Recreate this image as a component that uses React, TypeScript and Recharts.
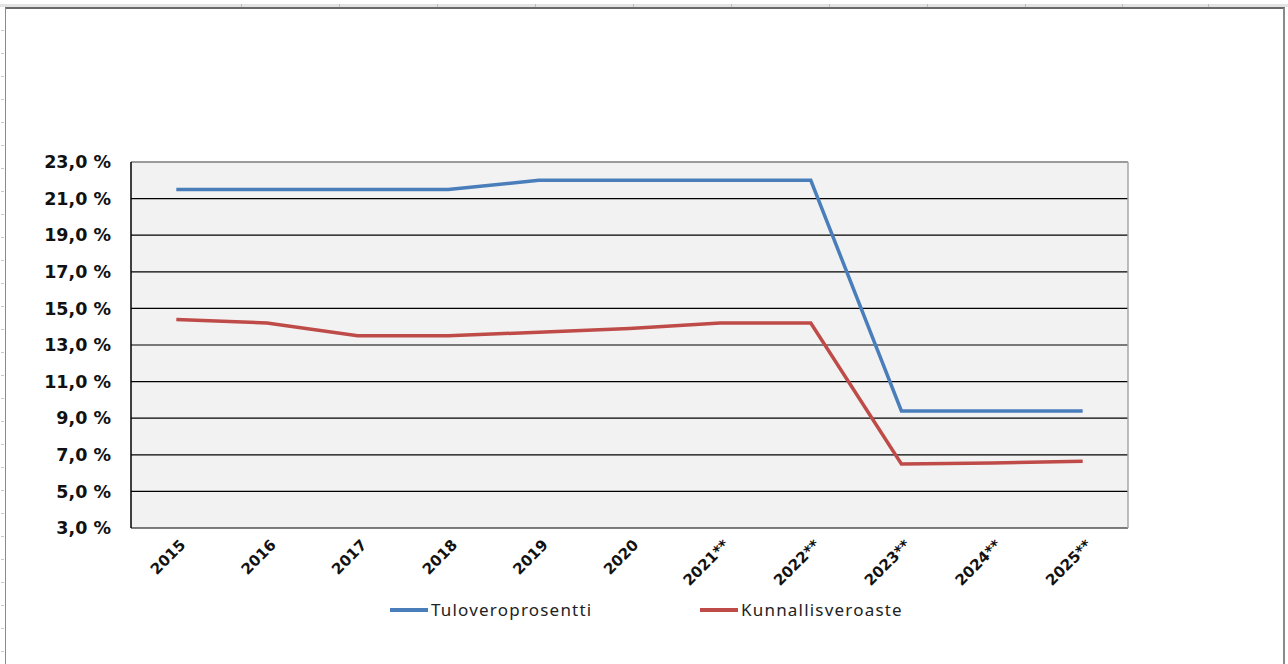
import { LineChart, Line, XAxis, YAxis, CartesianGrid, Legend, ReferenceLine } from 'recharts';

const years = ['2015', '2016', '2017', '2018', '2019', '2020', '2021**', '2022**', '2023**', '2024**', '2025**'];
const tuloveroprosentti = [21.5, 21.5, 21.5, 21.5, 22.0, 22.0, 22.0, 22.0, 9.4, 9.4, 9.4];
const kunnallisveroaste = [14.4, 14.2, 13.5, 13.5, 13.7, 13.9, 14.2, 14.2, 6.5, 6.55, 6.65];
const yTicks = [3, 5, 7, 9, 11, 13, 15, 17, 19, 21, 23];
const seriesOrder = ['Tuloveroprosentti', 'Kunnallisveroaste'];

const data = years.map((year, i) => ({
  idx: i,
  year,
  tulo: tuloveroprosentti[i],
  kunta: kunnallisveroaste[i],
}));

const yearTicks = years.map((_, i) => i);
const boundaryTicks = [...years.map((_, i) => i - 0.5), years.length - 0.5];

const formatPct = (v: number) => `${v.toFixed(1).replace('.', ',')} %`;

const YearTick = ({ x, y, payload }: any) => {
  const label = years[payload.value] ?? '';
  const ax = x + 2;
  return (
    <text
      x={ax}
      y={y}
      transform={`rotate(-45 ${ax} ${y})`}
      textAnchor="end"
      dy="0.75em"
      fontFamily="DejaVu Sans"
      fontWeight="bold"
      fontSize={15}
      fill="#111"
    >
      {label}
    </text>
  );
};

const LegendContent = ({ payload }: any) => {
  const items = [...(payload || [])].sort(
    (a: any, b: any) => seriesOrder.indexOf(a.value) - seriesOrder.indexOf(b.value)
  );
  return (
    <div style={{ display: 'flex', fontFamily: 'Noto Sans', fontSize: 17, letterSpacing: 1.2, color: '#222' }}>
      {items.map((item: any) => (
        <div key={item.value} style={{ display: 'flex', alignItems: 'center', width: 310 }}>
          <span style={{ display: 'inline-block', width: 38, height: 4, background: item.color, marginRight: 3 }} />
          <span>{item.value}</span>
        </div>
      ))}
    </div>
  );
};

const colLines = [241, 339, 437, 535, 633, 731, 829, 927, 1025, 1122, 1208];
const rowMarks = [30, 53, 76, 99, 122, 145, 168, 191, 214, 237, 260, 283, 306, 329, 352, 375, 398, 421, 444, 467, 490, 513, 536, 559, 582, 605, 628, 651];

export default function App() {
  return (
    <div style={{ position: 'absolute', left: 0, top: 0, width: 1288, height: 664, background: '#fff', overflow: 'hidden' }}>
      {/* spreadsheet chrome behind the chart */}
      <div style={{ position: 'absolute', left: 0, top: 4, width: 1288, height: 3, background: '#e3e3e3' }}>
        {colLines.map((c) => (
          <div key={c} style={{ position: 'absolute', left: c, top: 0, width: 1, height: 3, background: '#bdbdbd' }} />
        ))}
      </div>
      {rowMarks.map((r) => (
        <div key={r} style={{ position: 'absolute', left: 1, top: r, width: 3, height: 1, background: '#c8c8c8' }} />
      ))}
      <div
        style={{
          position: 'absolute',
          left: 5,
          top: 7,
          width: 1277,
          height: 700,
          borderTop: '2px solid #6a6a6a',
          borderLeft: '1px solid #8a8a8a',
          borderRight: '2px solid #8a8a8a',
        }}
      />
      <div style={{ position: 'absolute', left: 0, top: 0 }}>
        <LineChart width={1288} height={664} data={data} margin={{ top: 162, right: 160, left: 0, bottom: 0 }}>
          <CartesianGrid
            xAxisId="years"
            vertical={false}
            stroke="#000"
            strokeWidth={1.2}
            fill="#f2f2f2"
            fillOpacity={1}
          />
          <XAxis
            xAxisId="bounds"
            type="number"
            dataKey="idx"
            domain={[-0.5, years.length - 0.5]}
            ticks={boundaryTicks}
            interval={0}
            height={0}
            tick={false}
            tickSize={6}
            stroke="#000"
            strokeWidth={1.5}
          />
          <XAxis
            xAxisId="years"
            type="number"
            dataKey="idx"
            domain={[-0.5, years.length - 0.5]}
            ticks={yearTicks}
            interval={0}
            height={136}
            axisLine={false}
            tickLine={false}
            tickSize={0}
            tickMargin={10}
            tick={<YearTick />}
          />
          <YAxis
            type="number"
            domain={[3, 23]}
            ticks={yTicks}
            interval={0}
            width={131}
            tickLine={false}
            tickMargin={14}
            tickFormatter={formatPct}
            stroke="#000"
            strokeWidth={1.5}
            tick={{ fill: '#111', fontFamily: 'DejaVu Sans', fontWeight: 'bold', fontSize: 17.5 }}
          />
          <ReferenceLine xAxisId="years" y={23} stroke="#a6a6a6" strokeWidth={1.5} />
          <ReferenceLine xAxisId="years" x={years.length - 0.5} stroke="#a6a6a6" strokeWidth={1.5} />
          <Legend
            layout="horizontal"
            verticalAlign="middle"
            align="center"
            wrapperStyle={{ left: 390, top: 598, width: 640 }}
            content={<LegendContent />}
          />
          <Line
            xAxisId="years"
            type="linear"
            dataKey="tulo"
            name="Tuloveroprosentti"
            stroke="#4a7ebb"
            strokeWidth={3.5}
            dot={false}
            isAnimationActive={false}
          />
          <Line
            xAxisId="years"
            type="linear"
            dataKey="kunta"
            name="Kunnallisveroaste"
            stroke="#be4b48"
            strokeWidth={3.5}
            dot={false}
            isAnimationActive={false}
          />
        </LineChart>
      </div>
    </div>
  );
}
